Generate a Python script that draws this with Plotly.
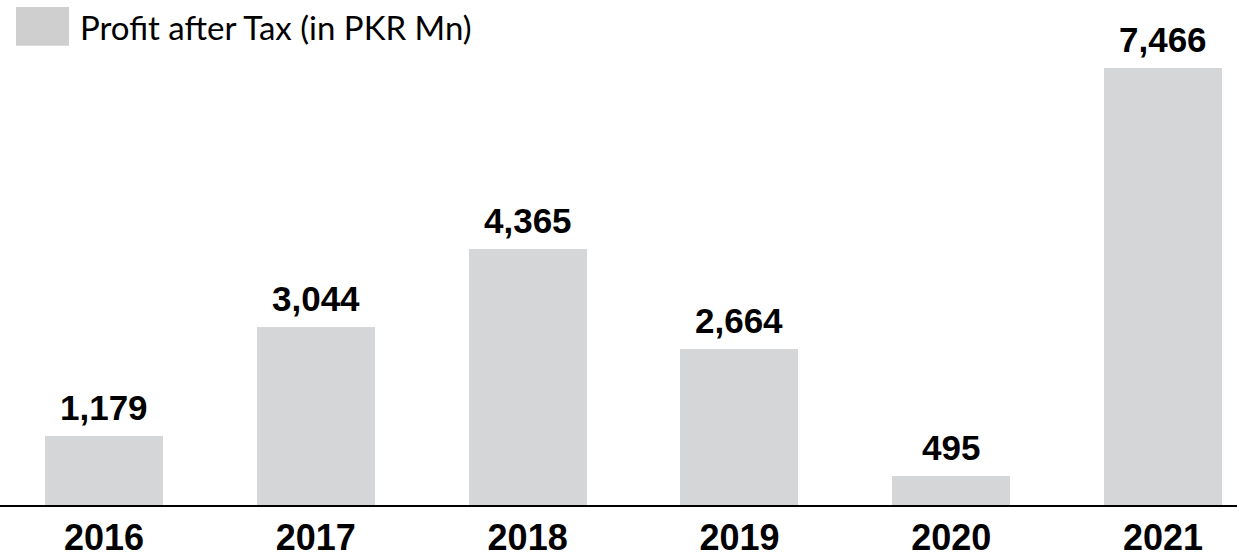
import plotly.graph_objects as go

years = ["2016", "2017", "2018", "2019", "2020", "2021"]
profit = [1179, 3044, 4365, 2664, 495, 7466]
labels = ["1,179", "3,044", "4,365", "2,664", "495", "7,466"]
legend_name = "Profit after Tax (in PKR Mn)"

W, H = 1237, 558
xpos = list(range(len(years)))

fig = go.Figure()
fig.add_trace(go.Bar(
    x=xpos, y=profit, width=0.557,
    marker=dict(color="#D5D6D8", line=dict(width=0)),
    name=legend_name, showlegend=False, hoverinfo="skip",
))

for xi, v, t in zip(xpos, profit, labels):
    fig.add_annotation(
        x=xi, y=v, xref="x", yref="y", text=f"<b>{t}</b>",
        showarrow=False, yanchor="bottom", yshift=7,
        font=dict(family="Liberation Sans, Arial", size=35, color="#000000"),
    )

# legend (manual, to match the large swatch)
fig.add_shape(type="rect", xref="paper", yref="paper",
              x0=16 / W, x1=69 / W, y0=1 - 46 / 508, y1=1 - 7 / 508,
              fillcolor="#D0CFD0", line=dict(width=0))
fig.add_annotation(
    xref="paper", yref="paper", x=78 / W, y=1 - 27 / 508,
    xanchor="left", yanchor="middle", showarrow=False, text=legend_name,
    font=dict(family="Lato", size=33, color="#000000"),
)

fig.update_layout(
    width=W, height=H,
    margin=dict(l=0, r=0, t=0, b=50),
    paper_bgcolor="white", plot_bgcolor="white",
    bargap=0,
    xaxis=dict(
        range=[-0.491, 5.349], tickmode="array", tickvals=xpos, ticktext=[f"<b>{y}</b>" for y in years],
        showline=True, linecolor="#000000", linewidth=2, showgrid=False, zeroline=False,
        ticks="", tickfont=dict(family="Liberation Sans, Arial", size=36, color="#000000"),
    ),
    yaxis=dict(range=[0, 8620], visible=False, showgrid=False, zeroline=False),
)

fig.write_html("out.html")
